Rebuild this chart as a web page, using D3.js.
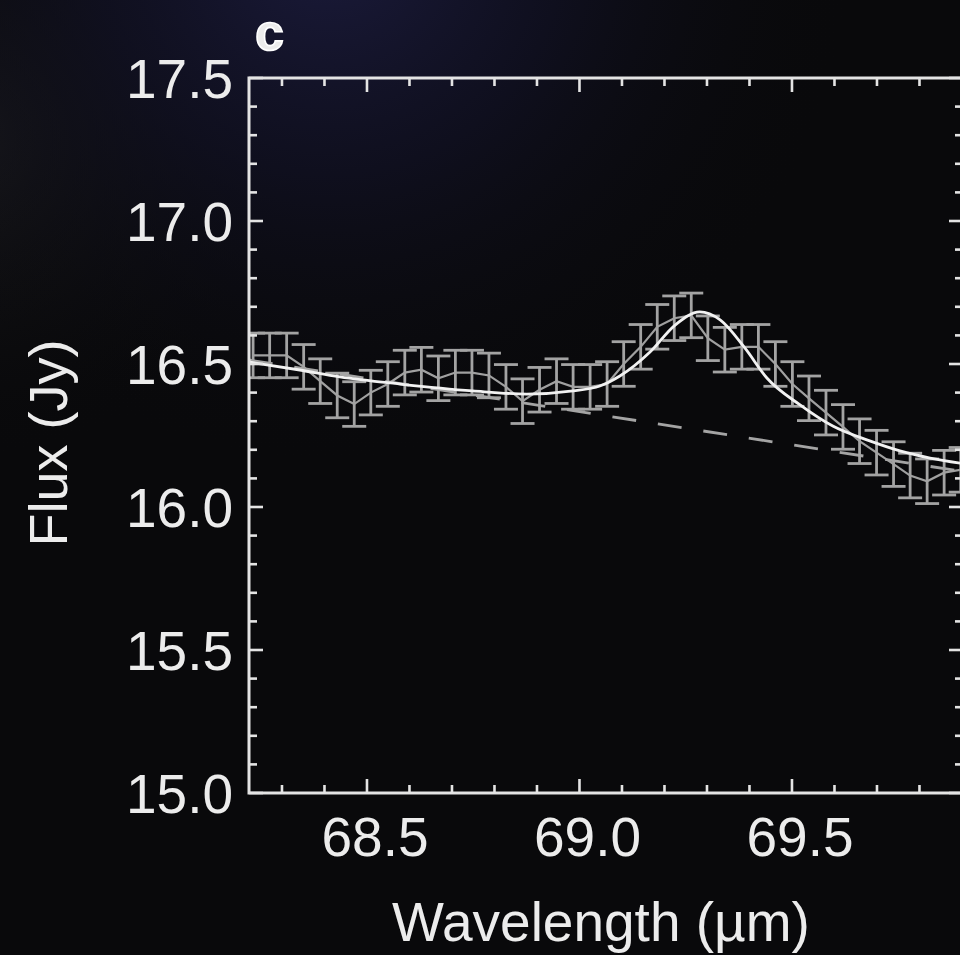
<!DOCTYPE html>
<html>
<head>
<meta charset="utf-8">
<script src="https://cdn.jsdelivr.net/npm/d3@7"></script>
<style>
  html, body { margin: 0; padding: 0; background: #0a0a0c; }
  svg { display: block; }
  text { font-family: "Liberation Sans", Arial, Helvetica, sans-serif; fill: #ececec; }
</style>
</head>
<body>
<svg id="chart" width="960" height="955"></svg>
<script>
// ---- data ----
const wavelength = [68.232, 68.271, 68.311, 68.351, 68.390, 68.430, 68.470, 68.509, 68.549, 68.589,
                    68.628, 68.668, 68.708, 68.747, 68.787, 68.827, 68.866, 68.906, 68.946, 68.985,
                    69.025, 69.065, 69.104, 69.144, 69.183, 69.223, 69.263, 69.302, 69.342, 69.382,
                    69.421, 69.461, 69.501, 69.540, 69.580, 69.620, 69.659, 69.699, 69.739, 69.778,
                    69.818, 69.858, 69.897];
const flux = [16.53, 16.53, 16.53, 16.49, 16.44, 16.39, 16.36, 16.40, 16.43, 16.47,
              16.48, 16.45, 16.47, 16.47, 16.46, 16.42, 16.37, 16.41, 16.44, 16.42,
              16.42, 16.43, 16.50, 16.56, 16.63, 16.66, 16.67, 16.59, 16.55, 16.56,
              16.56, 16.50, 16.43, 16.38, 16.33, 16.28, 16.23, 16.19, 16.15, 16.11,
              16.09, 16.12, 16.13];
const fluxErr = [0.078, 0.078, 0.078, 0.078, 0.078, 0.078, 0.078, 0.078, 0.078, 0.078,
                 0.078, 0.078, 0.078, 0.078, 0.078, 0.078, 0.078, 0.078, 0.078, 0.078,
                 0.078, 0.078, 0.078, 0.078, 0.078, 0.078, 0.078, 0.078, 0.078, 0.078,
                 0.078, 0.078, 0.078, 0.078, 0.078, 0.078, 0.078, 0.078, 0.078, 0.078,
                 0.078, 0.078, 0.078];
// fitted model (continuum + line)
const fitWavelength = [68.222, 68.342, 68.436, 68.578, 68.749, 68.876, 68.985, 69.048, 69.095, 69.166,
                       69.225, 69.283, 69.331, 69.389, 69.441, 69.519, 69.596, 69.683, 69.754, 69.825, 69.902];
const fitFlux = [16.507, 16.479, 16.455, 16.430, 16.406, 16.395, 16.406, 16.423, 16.458, 16.542,
                 16.636, 16.682, 16.654, 16.556, 16.451, 16.357, 16.283, 16.231, 16.196, 16.171, 16.152];
// continuum (dashed)
const contWavelength = [68.222, 69.902];
const contFlux = [16.514, 16.124];

const xTicksMajor = [68.5, 69.0, 69.5];
const xTicksMinor = [68.3, 68.4, 68.6, 68.7, 68.8, 68.9, 69.1, 69.2, 69.3, 69.4, 69.6, 69.7, 69.8];
const yTicksMajor = [15.0, 15.5, 16.0, 16.5, 17.0, 17.5];
const yTicksMinor = [15.1, 15.2, 15.3, 15.4, 15.6, 15.7, 15.8, 15.9, 16.1, 16.2, 16.3, 16.4,
                     16.6, 16.7, 16.8, 16.9, 17.1, 17.2, 17.3, 17.4];
const xDomain = [68.2224, 69.9024];
const yDomain = [15.0, 17.5];
const xLabel = "Wavelength (\u00b5m)";
const yLabel = "Flux (Jy)";
const panelLabel = "c";

// ---- layout ----
const svg = d3.select("#chart");
const W = 960, H = 955;
const m = { left: 249, top: 78, right: 963, bottom: 793 };

// background
const defs = svg.append("defs");
const rg = defs.append("radialGradient").attr("id", "glow")
  .attr("gradientUnits", "userSpaceOnUse").attr("cx", 330).attr("cy", -60).attr("r", 520);
rg.append("stop").attr("offset", "0").attr("stop-color", "#1b1b3c").attr("stop-opacity", 1);
rg.append("stop").attr("offset", "0.45").attr("stop-color", "#111124").attr("stop-opacity", 0.75);
rg.append("stop").attr("offset", "1").attr("stop-color", "#0a0a0c").attr("stop-opacity", 0);
const rg2 = defs.append("radialGradient").attr("id", "glow2")
  .attr("gradientUnits", "userSpaceOnUse").attr("cx", -40).attr("cy", 140).attr("r", 320);
rg2.append("stop").attr("offset", "0").attr("stop-color", "#1a1a1e").attr("stop-opacity", 1);
rg2.append("stop").attr("offset", "1").attr("stop-color", "#0a0a0c").attr("stop-opacity", 0);
svg.append("rect").attr("width", W).attr("height", H).attr("fill", "#09090b");
svg.append("rect").attr("width", W).attr("height", H).attr("fill", "url(#glow2)");
svg.append("rect").attr("width", W).attr("height", H).attr("fill", "url(#glow)");

defs.append("clipPath").attr("id", "plotclip").append("rect")
  .attr("x", m.left).attr("y", m.top).attr("width", m.right - m.left).attr("height", m.bottom - m.top);

const x = d3.scaleLinear().domain(xDomain).range([m.left, m.right]);
const y = d3.scaleLinear().domain(yDomain).range([m.bottom, m.top]);

const plot = svg.append("g").attr("clip-path", "url(#plotclip)");

// data connecting line
const pts = wavelength.map((w, i) => ({ w, f: flux[i], e: fluxErr[i] }));
plot.append("path").datum(pts)
  .attr("fill", "none").attr("stroke", "#a0a0a0").attr("stroke-width", 2.2)
  .attr("d", d3.line().x(d => x(d.w)).y(d => y(d.f)));

// error bars
const capHalf = 12;
const eb = plot.append("g").attr("stroke", "#a3a3a3").attr("stroke-width", 2.8).attr("fill", "none");
eb.selectAll("line.v").data(pts).join("line").attr("class", "v")
  .attr("x1", d => x(d.w)).attr("x2", d => x(d.w))
  .attr("y1", d => y(d.f - d.e)).attr("y2", d => y(d.f + d.e));
eb.selectAll("line.t").data(pts).join("line").attr("class", "t")
  .attr("x1", d => x(d.w) - capHalf).attr("x2", d => x(d.w) + capHalf)
  .attr("y1", d => y(d.f + d.e)).attr("y2", d => y(d.f + d.e));
eb.selectAll("line.b").data(pts).join("line").attr("class", "b")
  .attr("x1", d => x(d.w) - capHalf).attr("x2", d => x(d.w) + capHalf)
  .attr("y1", d => y(d.f - d.e)).attr("y2", d => y(d.f - d.e));

// continuum (dashed)
plot.append("path").datum(contWavelength.map((w, i) => [w, contFlux[i]]))
  .attr("fill", "none").attr("stroke", "#a4a4a4").attr("stroke-width", 2.8)
  .attr("stroke-dasharray", "24,22")
  .attr("d", d3.line().x(d => x(d[0])).y(d => y(d[1])));

// fitted model
plot.append("path").datum(fitWavelength.map((w, i) => [w, fitFlux[i]]))
  .attr("fill", "none").attr("stroke", "#f2f2f2").attr("stroke-width", 2.8)
  .attr("d", d3.line().curve(d3.curveMonotoneX).x(d => x(d[0])).y(d => y(d[1])));

// frame
const frameColor = "#e4e4e4";
svg.append("rect").attr("x", m.left).attr("y", m.top)
  .attr("width", m.right - m.left).attr("height", m.bottom - m.top)
  .attr("fill", "none").attr("stroke", frameColor).attr("stroke-width", 3);

// ticks (inward on all sides)
const tg = svg.append("g").attr("stroke", frameColor).attr("stroke-width", 2.6);
const majLen = 14, minLen = 8;
function xt(vals, len) {
  tg.selectAll(null).data(vals).join("line")
    .attr("x1", d => x(d)).attr("x2", d => x(d)).attr("y1", m.bottom).attr("y2", m.bottom - len);
  tg.selectAll(null).data(vals).join("line")
    .attr("x1", d => x(d)).attr("x2", d => x(d)).attr("y1", m.top).attr("y2", m.top + len);
}
function yt(vals, len) {
  tg.selectAll(null).data(vals).join("line")
    .attr("x1", m.left).attr("x2", m.left + len).attr("y1", d => y(d)).attr("y2", d => y(d));
  tg.selectAll(null).data(vals).join("line")
    .attr("x1", m.right).attr("x2", m.right - len).attr("y1", d => y(d)).attr("y2", d => y(d));
}
xt(xTicksMajor, majLen); xt(xTicksMinor, minLen);
yt(yTicksMajor, majLen); yt(yTicksMinor, minLen);

// tick labels
const fs = 55;
svg.append("g").selectAll("text").data(xTicksMajor).join("text")
  .attr("x", d => x(d) + 8).attr("y", 856)
  .attr("text-anchor", "middle").attr("font-size", fs)
  .text(d => d.toFixed(1));
svg.append("g").selectAll("text").data(yTicksMajor).join("text")
  .attr("x", 233).attr("y", d => y(d) + 20)
  .attr("text-anchor", "end").attr("font-size", fs)
  .text(d => d.toFixed(1));

// axis titles
svg.append("text").attr("x", 601).attr("y", 941)
  .attr("text-anchor", "middle").attr("font-size", 55).text(xLabel);
svg.append("text")
  .attr("transform", "translate(67,443) rotate(-90)")
  .attr("text-anchor", "middle").attr("font-size", 54).text(yLabel);

// panel label
svg.append("text").attr("x", 255).attr("y", 50)
  .attr("font-size", 52).attr("font-weight", "bold").attr("fill", "#ffffff")
  .attr("stroke", "#ffffff").attr("stroke-width", 1.6)
  .text(panelLabel);
</script>
</body>
</html>
